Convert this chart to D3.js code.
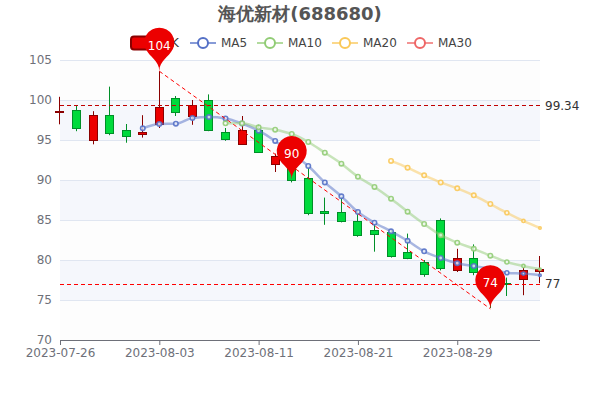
<!DOCTYPE html>
<html><head><meta charset="utf-8">
<style>html,body{margin:0;padding:0;background:#fff}svg{display:block;font-family:"DejaVu Sans",sans-serif}</style>
<script src="https://cdn.jsdelivr.net/npm/d3@7/dist/d3.min.js"></script></head>
<body><svg id="c" width="600" height="400"></svg>
<script>
const dates=["2023-07-26","2023-07-27","2023-07-28","2023-07-31","2023-08-01","2023-08-02","2023-08-03","2023-08-04","2023-08-07","2023-08-08","2023-08-09","2023-08-10","2023-08-11","2023-08-14","2023-08-15","2023-08-16","2023-08-17","2023-08-18","2023-08-21","2023-08-22","2023-08-23","2023-08-24","2023-08-25","2023-08-28","2023-08-29","2023-08-30","2023-08-31","2023-09-01","2023-09-04","2023-09-05"];
const opens=[98.5,98.7,95.04,98.16,96.3,95.7,96.96,100.2,98.04,100,96,94.6,96.3,92.05,92.2,90.2,86.1,86,84.9,83.75,83.45,81,79.7,85,78.7,80.3,78.5,77.15,77.66,78.7];
const closes=[98.6,96.5,98.16,95.9,95.5,96,99.08,98.5,99.4,96.3,95.1,96.3,93.6,93,90,85.83,85.9,84.9,83.2,83.3,80.4,80.2,78.2,79.04,80.25,78.6,77.5,77.05,78.8,78.9];
const lows=[96.96,96.1,94.46,95.6,94.66,95.3,96.5,98,96.9,96.1,94.9,94.5,93.5,91,89.7,85.6,84.4,84.7,82.9,81.04,80.3,80.1,77.9,78.7,78.5,78.1,74,75.5,75.6,77.1];
const highs=[100.4,99.25,98.6,101.67,97,98.1,103.6,100.5,100,100.7,96.5,98,96.9,93.3,92.4,91.5,87.8,87.9,86.2,84.5,83.75,83.3,80,85.2,81.4,81.95,79,77.8,79,80.5];
const ma5=[null,null,null,null,null,96.46,97,97.04,97.75,97.87,97.7,97.06,96.16,94.88,93.3,91.75,89.7,87.96,86,84.66,83.58,82.4,81.08,80.25,79.6,79.25,78.9,78.4,78.3,78.09];
const ma10=[null,null,null,null,null,null,null,null,null,null,97.08,97.08,96.58,96.29,95.75,94.75,93.41,92.04,90.41,89.13,87.66,86.04,84.5,83.1,82.17,81.4,80.54,79.75,79.25,78.83];
const ma20=[null,null,null,null,null,null,null,null,null,null,null,null,null,null,null,null,null,null,null,null,92.38,91.54,90.58,89.7,88.96,88.08,87,85.9,84.88,84];
const yTicks=[70,75,80,85,90,95,100,105];
const lineVals=[99.34,77];
const pins=[{i:6,v:103.6,t:"104"},{i:14,v:90.05,t:"90"},{i:26,v:73.9,t:"74"}];
const legendNames=["MA5","MA10","MA20","MA30"];
const legendX=[190,257,332,407];
const maColors=["#5470c6","#91cc75","#fac858","#ee6666"];

const svg=d3.select("#c");
const x=d3.scalePoint().domain(d3.range(dates.length)).range([60,540]);
const y=d3.scaleLinear().domain([70,105]).range([340,60]);
const gray="#6e7079";

// split areas
const bands=d3.pairs(yTicks);
svg.append("g").selectAll("rect").data(bands).join("rect")
 .attr("x",60).attr("width",480)
 .attr("y",d=>y(d[1])).attr("height",d=>y(d[0])-y(d[1]))
 .attr("fill",(d,i)=>i%2?"#f5f7fc":"#fdfdfd");

// grid
svg.append("g").selectAll("line").data(yTicks.slice(1)).join("line")
 .attr("x1",60).attr("x2",540).attr("y1",d=>Math.round(y(d))+.5).attr("y2",d=>Math.round(y(d))+.5)
 .attr("stroke","#e0e6f1");

// y labels
svg.append("g").selectAll("text").data(yTicks).join("text")
 .attr("x",52).attr("y",d=>y(d)).attr("dy","0.36em").attr("text-anchor","end")
 .attr("font-size",12).attr("fill",gray).text(d=>d);

// x axis
const tickIdx=d3.range(0,dates.length,6);
const xAxis=d3.axisBottom(x).tickValues(tickIdx).tickFormat(i=>dates[i]).tickSize(5).tickPadding(3);
const gx=svg.append("g").attr("transform","translate(0,340)").call(xAxis);
gx.select(".domain").attr("stroke",gray).attr("d","M60.5,0.5H540");
gx.selectAll("line").attr("stroke",gray);
gx.selectAll("text").attr("font-size",12).attr("fill",gray).attr("font-family","'DejaVu Sans',sans-serif");

// candles
const up="#ec0000",upB="#8a0000",dn="#00da3c",dnB="#008f28";
const cx=i=>Math.ceil(x(i))-.5;
const cg=svg.append("g").selectAll("g").data(d3.range(dates.length)).join("g");
cg.append("line").attr("x1",cx).attr("x2",cx)
 .attr("y1",i=>y(highs[i])).attr("y2",i=>y(lows[i]))
 .attr("stroke",i=>closes[i]>=opens[i]?upB:dnB);
cg.append("rect").attr("x",i=>cx(i)-4).attr("width",8)
 .attr("y",i=>Math.round(y(Math.max(opens[i],closes[i])))+.5)
 .attr("height",i=>Math.max(1,Math.round(Math.abs(y(opens[i])-y(closes[i])))))
 .attr("fill",i=>closes[i]>=opens[i]?up:dn)
 .attr("stroke",i=>closes[i]>=opens[i]?upB:dnB);

// MA lines
const symR=i=>i<=26?2.2:i==27?2:i==28?1.6:1.2;
const line=d3.line().defined(d=>d!=null).x((d,i)=>x(i)).y(d=>y(d)).curve(d3.curveMonotoneX);
[ma5,ma10,ma20].forEach((s,k)=>{
  svg.append("path").attr("d",line(s)).attr("fill","none").attr("stroke",maColors[k]).attr("stroke-opacity",.5).attr("stroke-width",2.5);
  svg.append("g").selectAll("circle").data(d3.range(s.length).filter(i=>s[i]!=null)).join("circle")
   .attr("cx",i=>x(i)).attr("cy",i=>y(s[i])).attr("r",i=>symR(i))
   .attr("fill","#fff").attr("fill-opacity",.7).attr("stroke",maColors[k]).attr("stroke-opacity",.9).attr("stroke-width",1.6);
});

// mark lines
svg.append("g").selectAll("line").data(lineVals).join("line")
 .attr("x1",60).attr("x2",540).attr("y1",d=>Math.round(y(d))+.5).attr("y2",d=>Math.round(y(d))+.5)
 .attr("stroke",(d,i)=>i?"#f00":"#c00000").attr("stroke-dasharray","4 3").attr("stroke-width",1);
svg.append("g").selectAll("text").data(lineVals).join("text")
 .attr("x",545).attr("y",d=>y(d)).attr("dy","0.36em").attr("font-size",12).attr("fill","#333").text(d=>d);
svg.append("line").attr("x1",x(pins[0].i)).attr("y1",y(pins[0].v)).attr("x2",x(pins[2].i)).attr("y2",y(pins[2].v))
 .attr("stroke","#f00").attr("stroke-dasharray","4 3").attr("stroke-width",1);

// legend
const lg=svg.append("g");
lg.append("rect").attr("x",131).attr("y",36.5).attr("width",35).attr("height",13).attr("rx",3)
 .attr("fill",up).attr("stroke",upB).attr("stroke-width",2);
lg.append("text").attr("x",171).attr("y",43).attr("dy","0.36em").attr("font-size",12).attr("fill","#333").text("K");
legendNames.forEach((n,k)=>{
  const g=lg.append("g").attr("transform",`translate(${legendX[k]},43)`);
  g.append("line").attr("x1",0).attr("x2",26).attr("stroke",maColors[k]).attr("stroke-width",2).attr("stroke-opacity",.7);
  g.append("circle").attr("cx",13).attr("r",5).attr("fill","#fff").attr("stroke",maColors[k]).attr("stroke-width",2);
  g.append("text").attr("x",31).attr("dy","0.36em").attr("font-size",12).attr("fill","#444").text(n);
});

// pins
function pinPath(px,py,size){
  const w=size/5*3,h=size,r=w/2,dy=r*r/(h-r),cy=py-h+r+dy,a=Math.asin(dy/r),dx=Math.cos(a)*r;
  const tx=Math.sin(a),ty=Math.cos(a),c1=r*.6,c2=r*.7;
  const p=d3.path();
  p.moveTo(px-dx,cy+dy);
  p.arc(px,cy,r,Math.PI-a,Math.PI*2+a);
  p.bezierCurveTo(px+dx-tx*c1,cy+dy+ty*c1,px,py-c2,px,py);
  p.bezierCurveTo(px,py-c2,px-dx+tx*c1,cy+dy+ty*c1,px-dx,cy+dy);
  return p.toString();
}
const pg=svg.append("g").selectAll("g").data(pins).join("g");
pg.append("path").attr("d",d=>pinPath(x(d.i),y(d.v),50)).attr("fill",up);
pg.append("text").attr("x",d=>x(d.i)).attr("y",d=>y(d.v)-26).attr("dy","0.36em").attr("text-anchor","middle")
 .attr("font-size",12).attr("fill","#fff").text(d=>d.t);

// title
svg.append("text").attr("x",300).attr("y",14).attr("dy","0.36em").attr("text-anchor","middle")
 .attr("font-size",18).attr("font-weight","bold").attr("fill","#555").text("海优新材(688680)");
</script></body></html>
